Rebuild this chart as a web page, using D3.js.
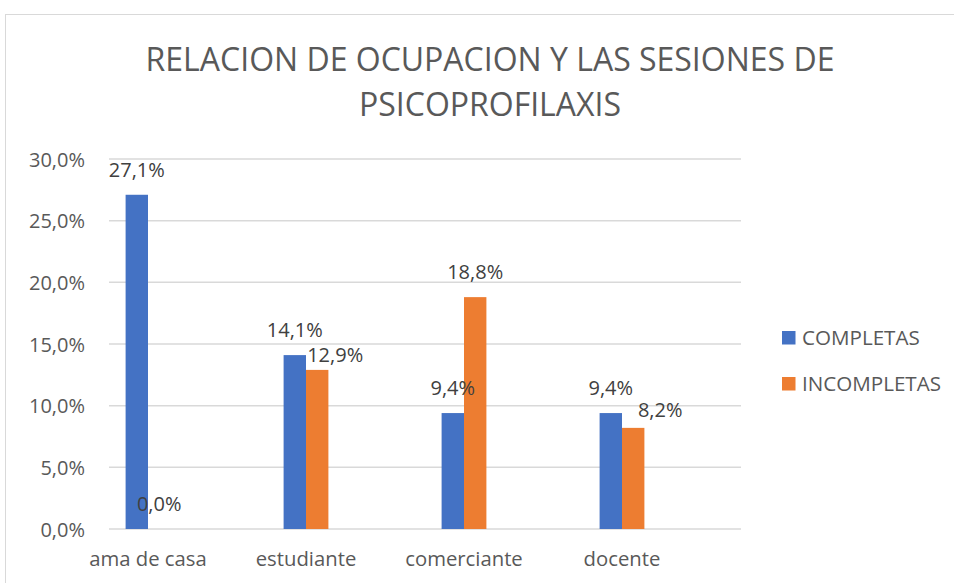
<!DOCTYPE html>
<html>
<head>
<meta charset="utf-8">
<script src="https://cdn.jsdelivr.net/npm/d3@7"></script>
<style>
  html, body { margin: 0; padding: 0; background: #ffffff; }
  svg { display: block; font-family: "Open Sans", "Noto Sans", sans-serif; }
</style>
</head>
<body>
<svg id="chart" width="954" height="583"></svg>
<script>
// ---- data ----
const titleLines = ["RELACION DE OCUPACION Y LAS SESIONES DE", "PSICOPROFILAXIS"];
const categories = ["ama de casa", "estudiante", "comerciante", "docente"];
const seriesNames = ["COMPLETAS", "INCOMPLETAS"];
const completas = [27.1, 14.1, 9.4, 9.4];
const incompletas = [0.0, 12.9, 18.8, 8.2];
const yTicks = [0, 5, 10, 15, 20, 25, 30];
const colors = ["#4472C4", "#ED7D31"];

// manual label nudges (px) as placed in the original chart: [series][category] = [dx, dy]
const labelNudges = [
  [[0, 0], [0, 0], [0, 0], [0, 0]],
  [[0, 0], [18, 10], [0, 0], [27, 7]]
];

const svg = d3.select("#chart");
const textColor = "#595959";

// chart frame
svg.append("rect")
  .attr("x", 5.5).attr("y", 14.5)
  .attr("width", 1000).attr("height", 600)
  .attr("fill", "#ffffff")
  .attr("stroke", "#D9D9D9").attr("stroke-width", 1);

// title
svg.append("g").selectAll("text")
  .data(titleLines)
  .join("text")
  .attr("x", 490)
  .attr("y", (d, i) => 71 + i * 45)
  .attr("text-anchor", "middle")
  .attr("fill", textColor)
  .attr("font-size", 32)
  .text(d => d);

// scales
const y = d3.scaleLinear().domain([0, 30]).range([529, 159]);
const x = d3.scaleBand().domain(categories).range([69, 701]);
const barW = 22.4;

// gridlines
svg.append("g").selectAll("line")
  .data(yTicks)
  .join("line")
  .attr("x1", 109).attr("x2", 741)
  .attr("y1", d => y(d)).attr("y2", d => y(d))
  .attr("stroke", "#D9D9D9").attr("stroke-width", 1.5);

// y axis labels
const yAxis = d3.axisLeft(y)
  .tickValues(yTicks)
  .tickSize(0)
  .tickPadding(0)
  .tickFormat(d => d.toFixed(1).replace(".", ",") + "%");
const yg = svg.append("g").attr("transform", "translate(85,0)").call(yAxis);
yg.select(".domain").remove();
yg.selectAll("text")
  .attr("fill", textColor)
  .attr("font-size", 20)
  .attr("font-family", "Open Sans, Noto Sans, sans-serif")
  .attr("dy", "0.35em");

// x axis labels
const xAxis = d3.axisBottom(x).tickSize(0).tickPadding(0);
const xg = svg.append("g").attr("transform", "translate(0,566)").call(xAxis);
xg.select(".domain").remove();
xg.selectAll("text")
  .attr("fill", textColor)
  .attr("font-size", 20.3)
  .attr("font-family", "Open Sans, Noto Sans, sans-serif")
  .attr("y", 0).attr("dy", 0);

// bars
const series = [completas, incompletas];
const center = c => x(c) + x.bandwidth() / 2;
series.forEach((vals, s) => {
  const g = svg.append("g");
  g.selectAll("rect")
    .data(vals)
    .join("rect")
    .attr("x", (d, i) => center(categories[i]) + (s === 0 ? -barW : 0))
    .attr("y", d => y(d))
    .attr("width", barW)
    .attr("height", d => y(0) - y(d))
    .attr("fill", colors[s]);
});

// data labels
series.forEach((vals, s) => {
  svg.append("g").selectAll("text")
    .data(vals)
    .join("text")
    .attr("x", (d, i) => center(categories[i]) + (s === 0 ? -barW / 2 : barW / 2) + labelNudges[s][i][0])
    .attr("y", (d, i) => y(d) - 18 + labelNudges[s][i][1])
    .attr("text-anchor", "middle")
    .attr("fill", "#404040")
    .attr("font-size", 20)
    .text(d => d.toFixed(1).replace(".", ",") + "%");
});

// legend
const legend = svg.append("g").selectAll("g")
  .data(seriesNames)
  .join("g")
  .attr("transform", (d, i) => `translate(782,${331 + i * 46})`);
legend.append("rect")
  .attr("width", 13.5).attr("height", 13.5)
  .attr("fill", (d, i) => colors[i]);
legend.append("text")
  .attr("x", 20).attr("y", 14)
  .attr("fill", textColor)
  .attr("font-size", 20.6)
  .text(d => d);
</script>
</body>
</html>
